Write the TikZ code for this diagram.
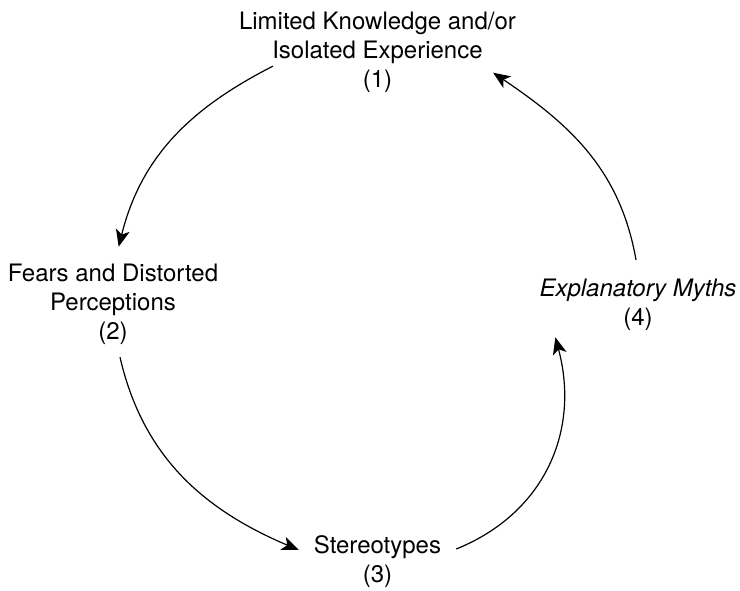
\documentclass[tikz,border=0pt]{standalone}
\usepackage{fontspec}
\setmainfont{TeX Gyre Heros}
\usetikzlibrary{arrows.meta,calc}
\begin{document}
\begin{tikzpicture}[x=1pt,y=1pt,
  lbl/.style={align=center,inner sep=0pt,font=\fontsize{24}{29}\selectfont},
  cyc/.style={-{Stealth[length=17pt,width=14pt,inset=4.5pt]},line width=1.2pt}]
\useasboundingbox (0,0) rectangle (740,590);
\node[lbl] (n1) at (377.5,537.3) {Limited Knowledge and/or\\Isolated Experience\\(1)};
\node[lbl] (n2) at (113,285.3) {Fears and Distorted\\Perceptions\\(2)};
\node[lbl] (n3) at (377.5,28.7) {Stereotypes\\(3)};
\node[lbl] (n4) at (638,285.7) {\textit{Explanatory Myths}\\(4)};
\draw[cyc] ($(n1.south west)+(34,27)$) to[out=207,in=76] ($(n2.north west)+(111,17.5)$);
\draw[cyc] ($(n2.south)+(7,-12)$) to[out=283,in=157] ($(n3.west)+(-15,11.3)$);
\draw[cyc] ($(n3.east)+(15,12.3)$) to[out=22,in=285,looseness=1.05] ($(n4.south west)+(16,-7)$);
\draw[cyc] ($(n4.north)+(-2,18.5)$) to[out=100,in=326] ($(n1.east)+(-23,-20)$);
\end{tikzpicture}
\end{document}
